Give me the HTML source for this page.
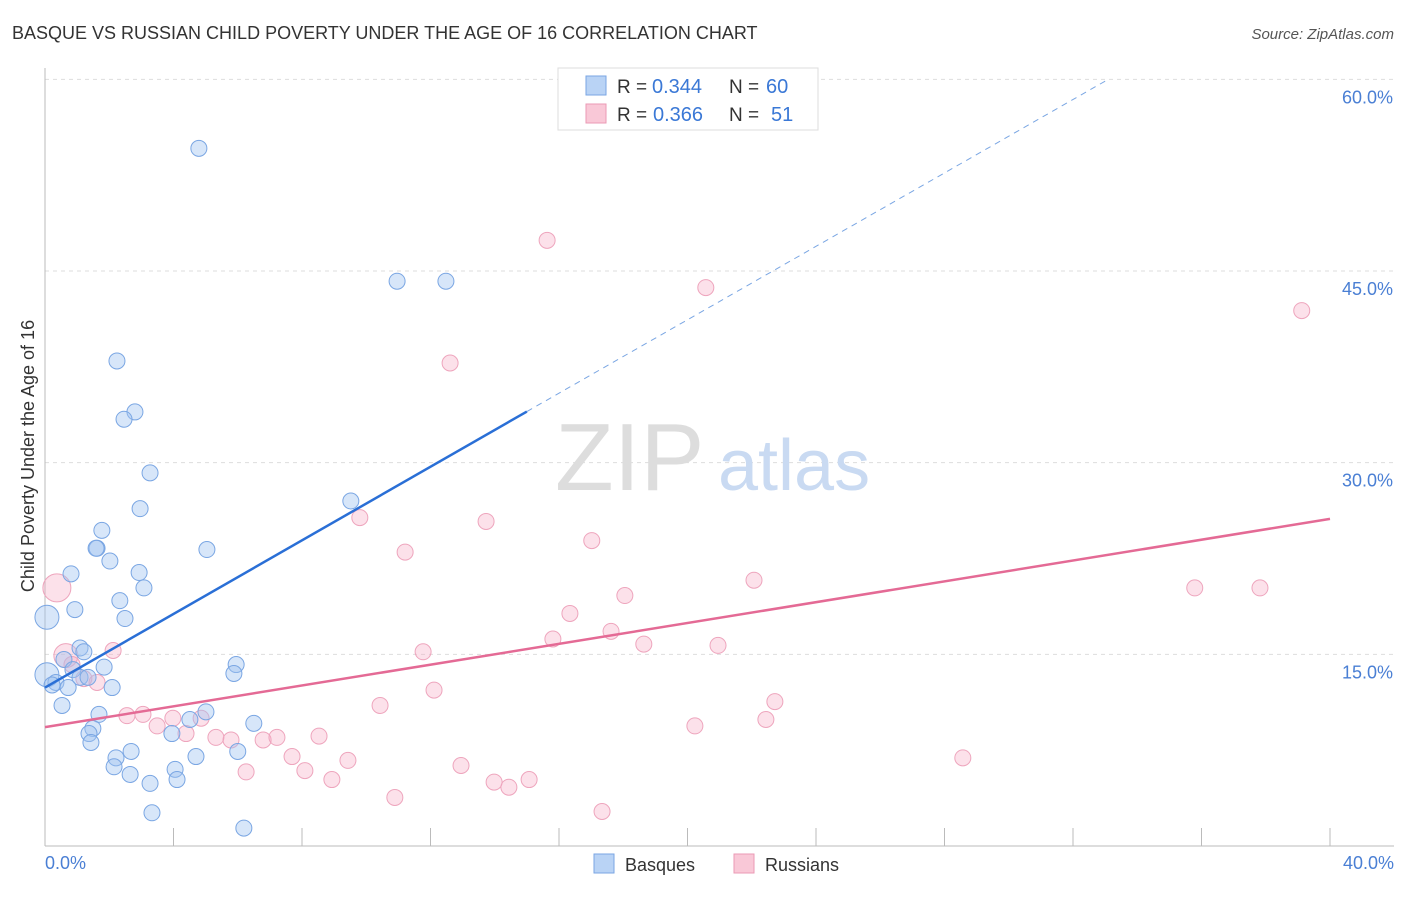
<!DOCTYPE html>
<html><head><meta charset="utf-8"><style>
body{margin:0;background:#fff;font-family:"Liberation Sans",sans-serif;}
svg text{font-family:"Liberation Sans",sans-serif;}
</style></head><body>
<svg id="chart" width="1406" height="892" xmlns="http://www.w3.org/2000/svg">
<text x="12" y="39" font-size="18" fill="#333">BASQUE VS RUSSIAN CHILD POVERTY UNDER THE AGE OF 16 CORRELATION CHART</text>
<text x="1394" y="39" font-size="15" fill="#555" font-style="italic" text-anchor="end">Source: ZipAtlas.com</text>
<g id="grid"></g>
<g><text x="555" y="490" font-size="96" fill="#ddd" font-family="Liberation Serif,serif">ZIP</text><text x="718" y="490" font-size="72" fill="#c9daf2">atlas</text></g>
<line x1="45" y1="68" x2="45" y2="846" stroke="#bbb"/>
<line x1="45" y1="846" x2="1394" y2="846" stroke="#bbb"/>
<g id="ticks"></g>
<g id="ylabels"></g>
<text x="45" y="869" font-size="18" fill="#4a7fd4">0.0%</text>
<text x="1394" y="869" font-size="18" fill="#4a7fd4" text-anchor="end">40.0%</text>
<text transform="translate(34,456) rotate(-90)" font-size="18" fill="#333" text-anchor="middle">Child Poverty Under the Age of 16</text>
<g id="russians"></g>
<g id="basques"></g>
<g id="trends"></g>
<g>
<rect x="558" y="68" width="260" height="62" fill="#fff" stroke="#ddd"/>
<rect x="586" y="76" width="20" height="19" fill="#b9d3f5" stroke="#7aa6e3"/>
<rect x="586" y="104" width="20" height="19" fill="#f9c8d7" stroke="#eb9ab4"/>
<text x="617" y="93" font-size="19" fill="#333">R =</text><text x="652" y="93" font-size="20" fill="#3a78d6">0.344</text>
<text x="729" y="93" font-size="19" fill="#333">N =</text><text x="766" y="93" font-size="20" fill="#3a78d6">60</text>
<text x="617" y="121" font-size="19" fill="#333">R =</text><text x="653" y="121" font-size="20" fill="#3a78d6">0.366</text>
<text x="729" y="121" font-size="19" fill="#333">N =</text><text x="771" y="121" font-size="20" fill="#3a78d6">51</text>
</g>
<g>
<rect x="594" y="854" width="20" height="19" fill="#b9d3f5" stroke="#7aa6e3"/>
<text x="625" y="871" font-size="18" fill="#333">Basques</text>
<rect x="734" y="854" width="20" height="19" fill="#f9c8d7" stroke="#eb9ab4"/>
<text x="765" y="871" font-size="18" fill="#333">Russians</text>
</g>
</svg>
<script>
const yTicks=[15,30,45,60];
const yTickLabels=["15.0%","30.0%","45.0%","60.0%"];
const basqueX=[4.79,10.96,12.48,2.24,2.80,2.46,3.27,9.52,2.96,1.77,1.62,1.59,5.04,2.02,0.81,2.93,3.08,2.33,0.93,2.49,0.06,1.09,1.21,0.59,5.95,1.84,5.88,0.87,0.06,1.09,1.34,0.34,0.22,0.72,2.09,0.53,1.68,5.01,4.51,6.5,1.49,1.37,3.95,1.43,2.68,6.0,4.7,2.21,2.15,4.05,2.65,4.11,3.27,3.33,6.19];
const basqueY=[54.6,44.2,44.2,37.96,33.97,33.4,29.2,27.0,26.4,24.7,23.3,23.3,23.2,22.3,21.3,21.4,20.2,19.2,18.5,17.8,17.9,15.5,15.2,14.6,14.2,14.0,13.5,13.8,13.4,13.2,13.2,12.8,12.6,12.4,12.4,11.0,10.3,10.5,9.9,9.6,9.2,8.8,8.8,8.1,7.4,7.4,7.0,6.9,6.2,6.0,5.6,5.2,4.9,2.6,1.4];
const basqueR=[8,8,8,8,8,8,8,8,8,8,8,8,8,8,8,8,8,8,8,8,12,8,8,8,8,8,8,8,12,8,8,8,8,8,8,8,8,8,8,8,8,8,8,8,8,8,8,8,8,8,8,8,8,8,8];
const russX=[15.63,20.57,39.12,12.61,9.80,13.73,17.02,11.21,22.07,35.79,37.82,0.37,18.05,16.34,17.62,15.81,18.64,20.95,11.77,0.65,2.12,0.84,1.21,1.62,12.11,22.72,10.43,2.55,3.05,22.44,4.86,3.98,3.49,20.23,4.39,5.32,5.79,6.79,7.22,8.53,7.69,9.43,28.57,6.26,8.09,12.95,8.93,15.07,13.98,14.44,10.89,17.34];
const russY=[47.4,43.7,41.9,37.8,25.7,25.4,23.9,23.0,20.8,20.2,20.2,20.2,19.6,18.2,16.8,16.2,15.8,15.7,15.2,14.9,15.3,14.2,13.1,12.8,12.2,11.3,11.0,10.2,10.3,9.9,10.0,10.0,9.4,9.4,8.8,8.5,8.3,8.3,8.5,8.6,7.0,6.7,6.9,5.8,5.9,6.3,5.2,5.2,5.0,4.6,3.8,2.7];
const russR=[8,8,8,8,8,8,8,8,8,8,8,14,8,8,8,8,8,8,8,12,8,8,8,8,8,8,8,8,8,8,8,8,8,8,8,8,8,8,8,8,8,8,8,8,8,8,8,8,8,8,8,8];
const blueTrend=[0,12.4,15,34.0];const blueDashEnd=[33.1,60];
const pinkTrend=[0,9.3,40,25.6];
const NS="http://www.w3.org/2000/svg";
const sx=v=>45+v/40*1285, sy=v=>846-v/15*191.67;
function mk(t,a,p){const e=document.createElementNS(NS,t);for(const k in a)e.setAttribute(k,a[k]);p.appendChild(e);return e;}
const grid=document.getElementById('grid'),yl=document.getElementById('ylabels'),tk=document.getElementById('ticks');
yTicks.forEach((v,i)=>{
 const l=mk('line',{x1:45,x2:1394,y1:sy(v),y2:sy(v),stroke:'#ddd','stroke-dasharray':'4,4'},grid);
 
 
 const t=mk('text',{x:1393,y:sy(v)+24,'font-size':18,fill:'#4a7fd4','text-anchor':'end'},yl);
 t.textContent=yTickLabels[i];
 
 
});
for(let i=1;i<=10;i++){const l=mk('line',{x1:sx(i*4),x2:sx(i*4),y1:828,y2:846,stroke:'#bbb'},tk);
 
 }
const rg=document.getElementById('russians');
russX.forEach((x,i)=>{const c=mk('circle',{cx:sx(x),cy:sy(russY[i]),r:russR[i],fill:'rgba(245,170,195,0.35)',stroke:'#eea5bd','stroke-width':1},rg);
 
 });
const bg=document.getElementById('basques');
basqueX.forEach((x,i)=>{const c=mk('circle',{cx:sx(x),cy:sy(basqueY[i]),r:basqueR[i],fill:'rgba(160,195,240,0.42)',stroke:'#7aa6e3','stroke-width':1},bg);
 
 });
const tg=document.getElementById('trends');
let l1=mk('line',{x1:sx(blueTrend[0]),y1:sy(blueTrend[1]),x2:sx(blueTrend[2]),y2:sy(blueTrend[3]),stroke:'#2a6fd6','stroke-width':2.5},tg);


let l2=mk('line',{x1:sx(blueTrend[2]),y1:sy(blueTrend[3]),x2:sx(blueDashEnd[0]),y2:sy(blueDashEnd[1]),stroke:'#7aa6e3','stroke-width':1,'stroke-dasharray':'6,5'},tg);


let l3=mk('line',{x1:sx(pinkTrend[0]),y1:sy(pinkTrend[1]),x2:sx(pinkTrend[2]),y2:sy(pinkTrend[3]),stroke:'#e46a95','stroke-width':2.5},tg);


</script>
</body></html>
